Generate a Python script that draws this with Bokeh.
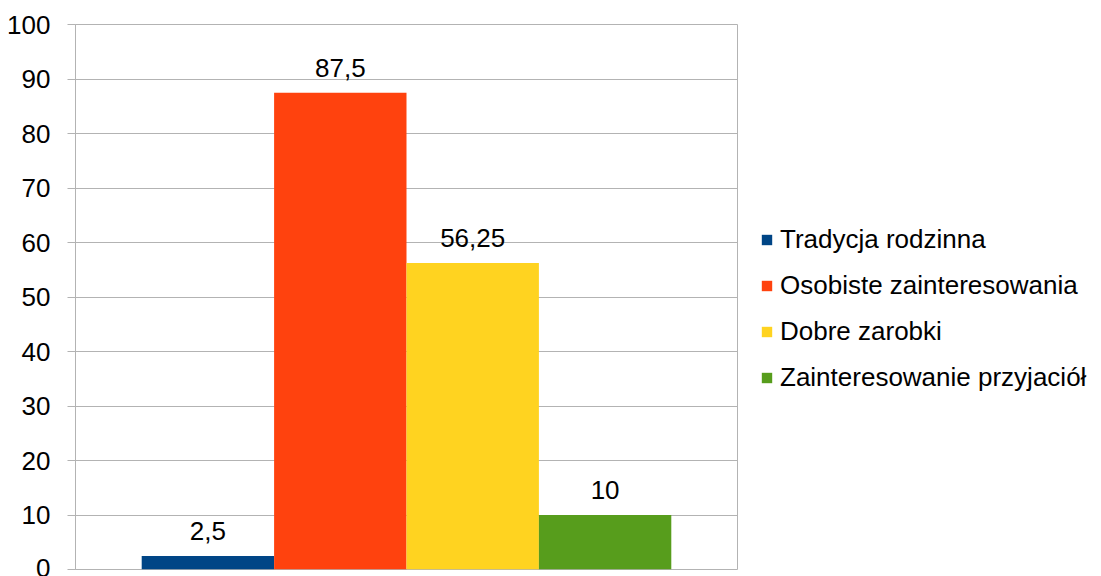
from bokeh.plotting import figure
from bokeh.models import (ColumnDataSource, FactorRange, Range1d, FixedTicker, LabelSet,
                          Legend, LegendItem)
from bokeh.core.properties import value
from bokeh.embed import file_html
from bokeh.resources import INLINE

series = ["Tradycja rodzinna", "Osobiste zainteresowania", "Dobre zarobki", "Zainteresowanie przyjaciół"]
values = [2.5, 87.5, 56.25, 10]
labels = ["2,5", "87,5", "56,25", "10"]
colors = ["#004586", "#ff420e", "#ffd320", "#579d1c"]
y_ticks = list(range(0, 101, 10))

FONT = "Liberation Sans"
GRID = "#b3b3b3"

src = ColumnDataSource(dict(x=series, top=values, label=labels, color=colors))

p = figure(x_range=FactorRange(factors=series, range_padding=0.25),
           y_range=Range1d(0, 100),
           frame_width=662, frame_height=545,
           output_backend="svg", toolbar_location=None,
           min_border_left=75, min_border_top=24, min_border_bottom=7, min_border_right=0)

r = p.vbar(x="x", top="top", width=1.0, color="color", line_color=None, source=src)

p.add_layout(LabelSet(x="x", y="top", text="label", source=src, text_align="center",
                      text_baseline="alphabetic", y_offset=16,
                      text_font=value(FONT), text_font_size="26px", text_color="black"))

p.xaxis.visible = False
p.xgrid.visible = False
p.ygrid.grid_line_color = GRID
p.ygrid.grid_line_width = 1
p.outline_line_color = GRID

ax = p.yaxis[0]
ax.ticker = FixedTicker(ticks=y_ticks)
ax.axis_line_color = GRID
ax.major_tick_line_color = GRID
ax.major_tick_out = 8
ax.major_tick_in = 0
ax.minor_tick_line_color = None
ax.major_label_text_font = FONT
ax.major_label_text_font_size = "26px"
ax.major_label_text_color = "black"
ax.major_label_standoff = 17

items = [LegendItem(label=s, renderers=[r], index=i) for i, s in enumerate(series)]
legend = Legend(items=items, location=(23, 176), orientation="vertical",
                glyph_width=13, glyph_height=13, label_standoff=7,
                label_text_font=FONT, label_text_font_size="26px", label_text_color="black",
                label_height=30, spacing=15, padding=0, margin=23,
                border_line_color=None, background_fill_color=None)
p.add_layout(legend, "right")

open("out.html", "w").write(file_html(p, INLINE))
